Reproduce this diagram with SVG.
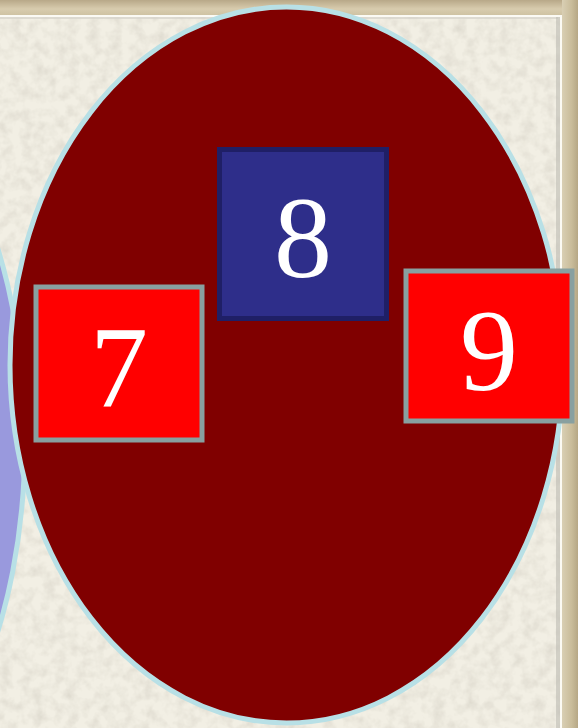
<svg xmlns="http://www.w3.org/2000/svg" width="578" height="728" viewBox="0 0 578 728">
<style>
.num{font-family:'Liberation Serif','Times New Roman',Tinos,Times,serif;font-size:116px;fill:#FFFFFF;text-anchor:middle}
.red{fill:#FF0000;stroke:#88A0A0;stroke-width:5}
.blue{fill:#2E2E8A;stroke:#1F1F66;stroke-width:5}
.ell{stroke:#B8E0E6;stroke-width:5}
</style>
<defs>
<filter id="tex" x="0" y="0" width="100%" height="100%">
<feTurbulence type="fractalNoise" baseFrequency="0.09" numOctaves="3" seed="4" result="n"/>
<feColorMatrix in="n" type="matrix" values="0 0 0 0 0.55  0 0 0 0 0.52  0 0 0 0 0.45  0 0 0 -1.6 1.0" result="c"/>
<feComposite in="c" in2="SourceGraphic" operator="in"/>
</filter>
<linearGradient id="topband" x1="0" y1="0" x2="0" y2="1">
<stop offset="0" stop-color="#B8A888"/>
<stop offset="0.6" stop-color="#D8CCAE"/>
<stop offset="1" stop-color="#CFC3A3"/>
</linearGradient>
<linearGradient id="rightband" x1="0" y1="0" x2="1" y2="0">
<stop offset="0" stop-color="#D9CFB4"/>
<stop offset="0.6" stop-color="#C9BC9A"/>
<stop offset="1" stop-color="#B6A785"/>
</linearGradient>
</defs>
<g id="background">
<rect x="0" y="0" width="578" height="728" fill="#F2EFE4"/>
<rect x="0" y="0" width="578" height="728" fill="#F2EFE4" filter="url(#tex)" opacity="0.45"/>
<rect x="0" y="0" width="578" height="15" fill="url(#topband)"/>
<rect x="0" y="15" width="562" height="2" fill="#FBFAF4"/>
<rect x="0" y="17" width="558" height="2" fill="#D6D3CA" opacity="0.7"/>
<rect x="562" y="0" width="16" height="728" fill="url(#rightband)"/>
<rect x="560" y="15" width="2" height="713" fill="#FBFAF4"/>
<rect x="556" y="17" width="4" height="711" fill="#BDBAB2" opacity="0.6"/>
</g>
<g id="left-ellipse">
<ellipse class="ell" cx="-150" cy="440" rx="175" ry="357" fill="#9999DD"/>
</g>
<g id="main-ellipse">
<ellipse class="ell" cx="286.5" cy="365" rx="276.5" ry="358" fill="#800000"/>
</g>
<g id="node-8">
<rect class="blue" x="219.5" y="149.5" width="167" height="169"/>
<text class="num" x="303" y="277" font-family="Liberation Serif, serif">8</text>
</g>
<g id="node-7">
<rect class="red" x="36" y="287" width="166" height="153"/>
<text class="num" x="119" y="407" font-family="Liberation Serif, serif">7</text>
</g>
<g id="node-9">
<rect class="red" x="406" y="271" width="166" height="150"/>
<text class="num" x="489" y="390" font-family="Liberation Serif, serif">9</text>
</g>
<g id="connectors"/>
</svg>
